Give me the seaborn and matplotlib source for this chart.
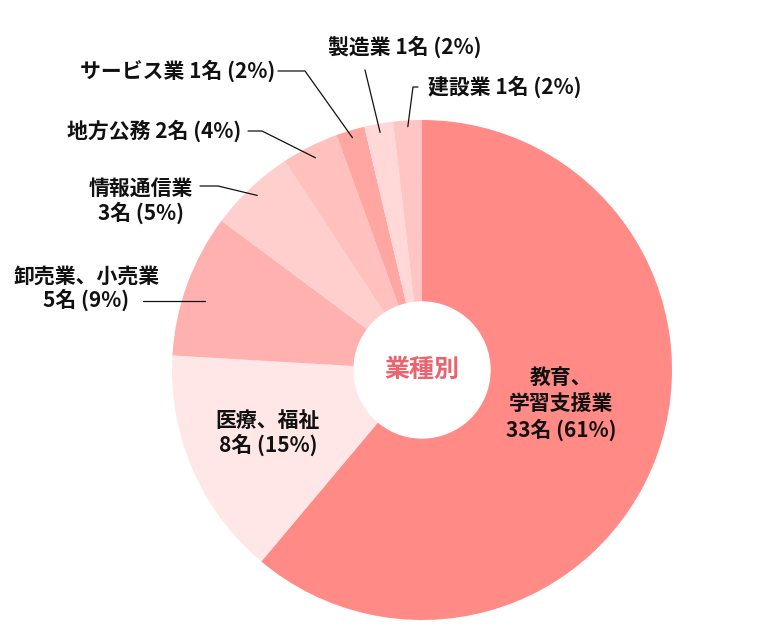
import numpy as np
import matplotlib
matplotlib.use("Agg")
import matplotlib.pyplot as plt
import seaborn as sns

# data
sectors = ["教育、\n学習支援業", "医療、福祉", "卸売業、小売業", "情報通信業",
           "地方公務", "サービス業", "製造業", "建設業"]
counts = [33, 8, 5, 3, 2, 1, 1, 1]
percents = [61, 15, 9, 5, 4, 2, 2, 2]
colors = ["#FF8A86", "#FFE7E7", "#FFB1AF", "#FFCFCD",
          "#FFC0BE", "#FFA6A3", "#FFD8D7", "#FFC5C4"]

W, H = 761, 641
CX, CY, R, R_HOLE = 422, 370, 250, 68

sns.set_theme(style="white")
plt.rcParams["font.family"] = ["Noto Sans CJK JP", "DejaVu Sans"]


def Y(y):
    return H - y


fig = plt.figure(figsize=(W / 100, H / 100), dpi=100)
ax = fig.add_axes([0, 0, 1, 1])

wedges, _ = ax.pie(counts, colors=colors, startangle=90, counterclock=False,
                   center=(CX, Y(CY)), radius=R,
                   wedgeprops=dict(linewidth=0))
# pie resets the limits, so set them afterwards
ax.set_xlim(0, W)
ax.set_ylim(0, H)
ax.set_aspect("equal")
ax.axis("off")

ax.add_patch(plt.Circle((CX, Y(CY)), R_HOLE, color="white", zorder=3))
ax.text(CX, Y(CY), "業種別", ha="center", va="center", fontsize=18,
        fontweight="bold", color="#E8646E", zorder=4)


def anchor(i, frac):
    w = wedges[i]
    th = np.deg2rad((w.theta1 + w.theta2) / 2)
    return CX + R * frac * np.cos(th), Y(CY) + R * frac * np.sin(th)


fs = 15
# label layout: text position, alignment, line spacing, leader points
# (leader starts on the wedge at its mid angle unless given as a point)
layout = {
    0: ((561, 404), "center", 1.3, None),
    1: ((268, 433), "center", 1.1, None),
    2: ((86, 288), "center", 1.1, [(205, 301), (143, 301)]),
    3: ((141, 201), "center", 1.15, [(218, 186), (200, 186)]),
    4: ((241, 131), "right", 1.1, [(262, 131), (248, 131)]),
    5: ((275, 71), "right", 1.1, [(305, 71), (278, 71)]),
    6: ((405, 47), "center", 1.1, [(365, 70)]),
    7: ((428, 87), "left", 1.1, [(413, 87), (418, 87)]),
}
fracs = {3: 0.96, 4: 0.95, 5: 0.97, 6: 0.965, 7: 0.975}

for i, name in enumerate(sectors):
    (tx, ty), ha, ls, pts = layout[i]
    sep = "\n" if i <= 3 else " "
    label = f"{name}{sep}{counts[i]}名 ({percents[i]}%)"
    ax.text(tx, Y(ty), label, ha=ha, va="center", multialignment="center",
            fontsize=fs, fontweight="bold", color="#111111", linespacing=ls,
            zorder=5)
    if pts:
        xs = [p[0] for p in pts]
        ys = [Y(p[1]) for p in pts]
        if i in fracs:
            ax_, ay_ = anchor(i, fracs[i])
            xs = [ax_] + xs
            ys = [ay_] + ys
        ax.plot(xs, ys, color="#111111", linewidth=0.9, zorder=5)

fig.savefig("out.png", dpi=100)
